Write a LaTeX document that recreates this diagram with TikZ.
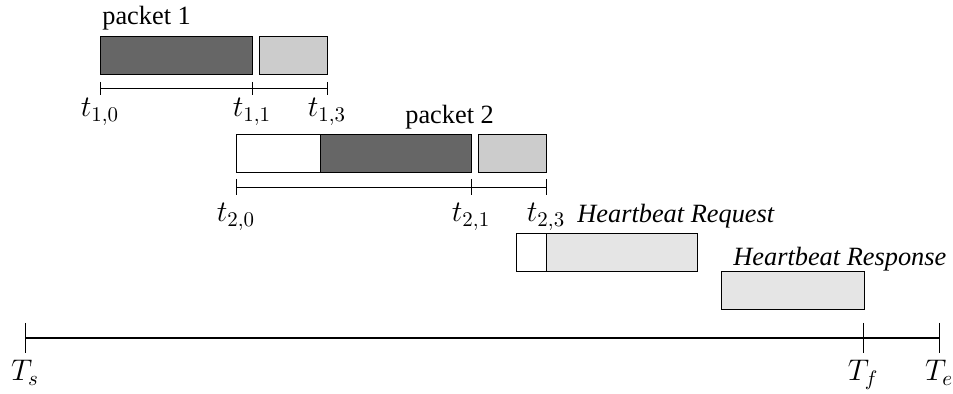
\documentclass[tikz,border=0pt]{standalone}
\usepackage{fix-cm}
\usepackage{amsmath}
\usepackage{fontspec}
\setmainfont{Liberation Serif}
\usepackage{tikz}
\usetikzlibrary{positioning}

\begin{document}
\begin{tikzpicture}[x=0.02cm, y=-0.02cm,
    every node/.style={font=\fontsize{15}{18}\selectfont},
    seg/.style={draw, line width=0.5pt, inner sep=0pt, outer sep=0pt, minimum height=0.76cm},
    idle/.style={seg, fill=white},
    data/.style={seg, fill=black!60},
    ack/.style={seg, fill=black!20},
    beat/.style={seg, fill=black!10},
    lbl/.style={anchor=base, inner sep=0pt, font=\fontsize{17}{20}\selectfont},
    tick/.style={line width=0.5pt}]
   \useasboundingbox (0,0) rectangle (953,394);

   % packet 1
   \node[data, minimum width=3.04cm, anchor=north west] (p1data) at (100,36) {};
   \node[ack, minimum width=1.36cm, right=0.14cm of p1data] (p1ack) {};
   \node[anchor=base west, inner sep=0pt] (p1name) at (102,25) {packet 1};

   \coordinate (t10) at (100,88);
   \coordinate (t11) at (252,88);
   \coordinate (t13) at (327,88);
   \draw[tick] (t10) -- (t13);
   \foreach \c in {t10,t11,t13}
      \draw[tick] (\c) ++(0,-6) -- ++(0,13);
   \node[lbl] (l10) at (100,117) {$t_{1,0}$};
   \node[lbl] (l11) at (252,117) {$t_{1,1}$};
   \node[lbl] (l13) at (327,117) {$t_{1,3}$};

   % packet 2
   \node[idle, minimum width=1.68cm, anchor=north west] (p2wait) at (236,134) {};
   \node[data, minimum width=3.02cm, right=0pt of p2wait] (p2data) {};
   \node[ack, minimum width=1.36cm, right=0.14cm of p2data] (p2ack) {};
   \node[anchor=base west, inner sep=0pt] (p2name) at (405,124) {packet 2};

   \coordinate (t20) at (236,187);
   \coordinate (t21) at (471,187);
   \coordinate (t23) at (546,187);
   \draw[tick] (t20) -- (t23);
   \foreach \c in {t20,t21,t23}
      \draw[tick] (\c) ++(0,-8) -- ++(0,16);
   \node[lbl] (l20) at (236,222) {$t_{2,0}$};
   \node[lbl] (l21) at (471,222) {$t_{2,1}$};
   \node[lbl] (l23) at (546,222) {$t_{2,3}$};

   % heartbeat
   \node[idle, minimum width=0.6cm, anchor=north west] (hbwait) at (516,233) {};
   \node[beat, minimum width=3.02cm, right=0pt of hbwait] (hbreq) {};
   \node[anchor=base west, inner sep=0pt] (hbreqname) at (577,223) {\itshape Heartbeat Request};

   \node[beat, minimum width=2.86cm, anchor=north west] (hbresp) at (721,271) {};
   \node[anchor=base west, inner sep=0pt] (hbrespname) at (733,266) {\itshape Heartbeat Response};

   % whole period
   \coordinate (Ts) at (25,338);
   \coordinate (Tf) at (863,338);
   \coordinate (Te) at (939,338);
   \draw[line width=1.2pt] (Ts) -- (Te);
   \foreach \c in {Ts,Tf,Te}
      \draw[tick] (\c) ++(0,-15) -- ++(0,30);
   \node[lbl] (lTs) at (25,381) {$T_s$};
   \node[lbl] (lTf) at (863,381) {$T_f$};
   \node[lbl] (lTe) at (939,381) {$T_e$};
\end{tikzpicture}
\end{document}
